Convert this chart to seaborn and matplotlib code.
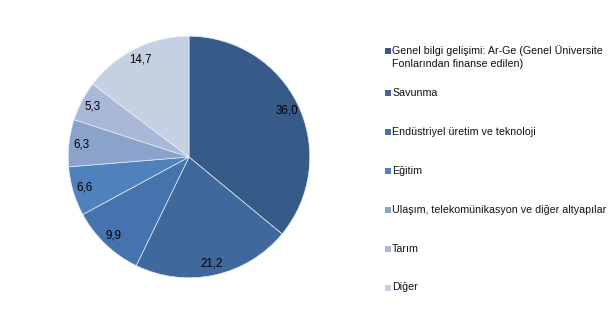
import matplotlib
matplotlib.use("Agg")
import matplotlib.pyplot as plt
import seaborn as sns
from matplotlib.patches import Rectangle

# Share of R&D spending by socio-economic objective (%)
categories = [
    "Genel bilgi gelişimi: Ar-Ge (Genel Üniversite\nFonlarından finanse edilen)",
    "Savunma",
    "Endüstriyel üretim ve teknoloji",
    "Eğitim",
    "Ulaşım, telekomünikasyon ve diğer altyapılar",
    "Tarım",
    "Diğer",
]
values = [36.0, 21.2, 9.9, 6.6, 6.3, 5.3, 14.7]
value_labels = ["36,0", "21,2", "9,9", "6,6", "6,3", "5,3", "14,7"]
colors = ["#375B88", "#3F699D", "#4573AD", "#4F81BD", "#8BA2CA", "#A9B8D6", "#C6D0E3"]

sns.set_theme(style="white")
plt.rcParams["font.family"] = ["Liberation Sans", "DejaVu Sans"]

W, H = 615, 325
fig = plt.figure(figsize=(W / 100, H / 100), dpi=100)
fig.patch.set_facecolor("white")

cx, cy, r = 189, 157, 122
ax = fig.add_axes([(cx - r) / W, (H - cy - r) / H, 2 * r / W, 2 * r / H])

wedges, texts = ax.pie(
    values,
    labels=value_labels,
    colors=colors,
    startangle=90,
    counterclock=False,
    labeldistance=0.9,
    radius=1.0,
    wedgeprops=dict(edgecolor="#E8EDF5", linewidth=0.5),
    textprops=dict(fontsize=8.3, color="black", ha="center", va="center"),
)
for t in texts:
    t.set_horizontalalignment("center")
ax.set_xlim(-1.01, 1.01)
ax.set_ylim(-1.01, 1.01)
ax.set_aspect("equal")
ax.axis("off")

# Legend drawn as swatches plus text on the right
sq = 6
text_x = 392
ys = [51] + [93 + i * 38.9 for i in range(len(categories) - 1)]
for i, (color, label, y) in enumerate(zip(colors, categories, ys)):
    fig.patches.append(
        Rectangle((385 / W, (H - y - sq / 2) / H), sq / W, sq / H,
                  transform=fig.transFigure, facecolor=color, edgecolor="none")
    )
    multiline = "\n" in label
    fig.text(text_x / W, (H - y + (6 if multiline else 0)) / H, label,
             fontsize=7.7, color="#111111",
             ha="left", va="top" if multiline else "center",
             linespacing=1.35, transform=fig.transFigure)

fig.savefig("out.png", dpi=100, facecolor="white")
